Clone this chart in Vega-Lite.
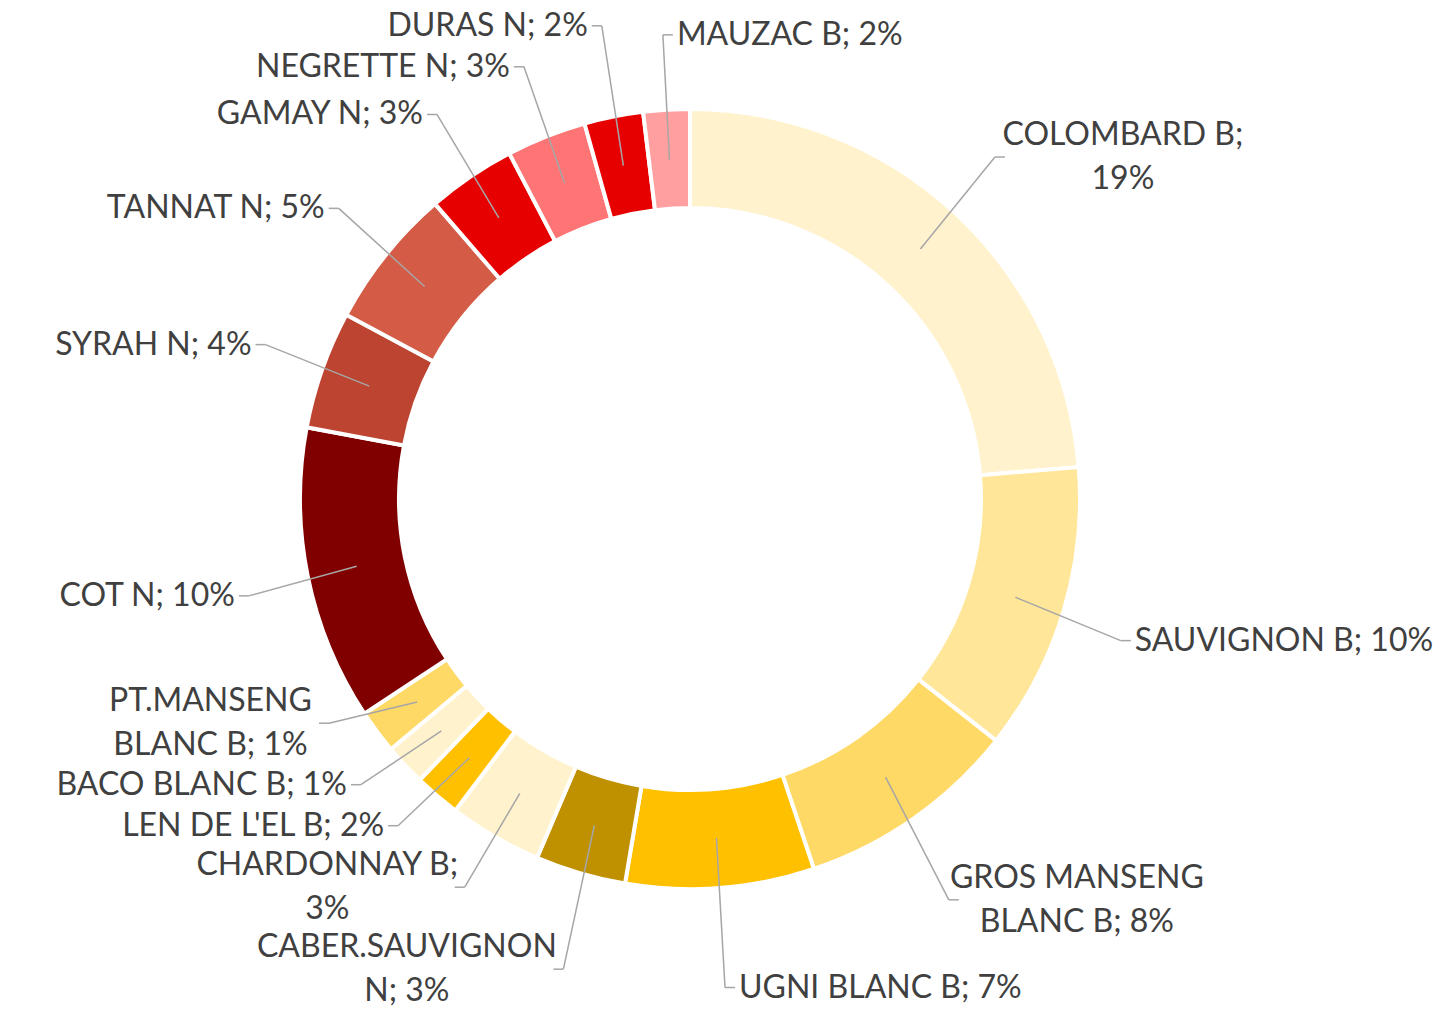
{
  "$schema": "https://vega.github.io/schema/vega-lite/v6.json",
  "width": 1380,
  "height": 998,
  "autosize": {"type": "none"},
  "padding": {"left": 0, "top": 0, "right": 75, "bottom": 19},
  "background": "white",
  "config": {"view": {"stroke": null}, "font": "Lato"},
  "data": {
    "values": [
      {"idx": 1, "name": "COLOMBARD B", "value": 23.7, "label": "COLOMBARD B;\n19%"},
      {"idx": 2, "name": "SAUVIGNON B", "value": 11.94, "label": "SAUVIGNON B; 10%"},
      {"idx": 3, "name": "GROS MANSENG BLANC B", "value": 9.22, "label": "GROS MANSENG\nBLANC B; 8%"},
      {"idx": 4, "name": "UGNI BLANC B", "value": 7.81, "label": "UGNI BLANC B; 7%"},
      {"idx": 5, "name": "CABER.SAUVIGNON N", "value": 3.75, "label": "CABER.SAUVIGNON\nN; 3%"},
      {"idx": 6, "name": "CHARDONNAY B", "value": 3.86, "label": "CHARDONNAY B;\n3%"},
      {"idx": 7, "name": "LEN DE L'EL B", "value": 1.92, "label": "LEN DE L'EL B; 2%"},
      {"idx": 8, "name": "BACO BLANC B", "value": 1.72, "label": "BACO BLANC B; 1%"},
      {"idx": 9, "name": "PT.MANSENG BLANC B", "value": 1.81, "label": "PT.MANSENG\nBLANC B; 1%"},
      {"idx": 10, "name": "COT N", "value": 12.22, "label": "COT N; 10%"},
      {"idx": 11, "name": "SYRAH N", "value": 4.89, "label": "SYRAH N; 4%"},
      {"idx": 12, "name": "TANNAT N", "value": 5.83, "label": "TANNAT N; 5%"},
      {"idx": 13, "name": "GAMAY N", "value": 3.67, "label": "GAMAY N; 3%"},
      {"idx": 14, "name": "NEGRETTE N", "value": 3.31, "label": "NEGRETTE N; 3%"},
      {"idx": 15, "name": "DURAS N", "value": 2.44, "label": "DURAS N; 2%"},
      {"idx": 16, "name": "MAUZAC B", "value": 1.92, "label": "MAUZAC B; 2%"}
    ]
  },
  "transform": [
    {"joinaggregate": [{"op": "sum", "field": "value", "as": "total"}]},
    {"window": [{"op": "sum", "field": "value", "as": "cum"}], "sort": [{"field": "idx", "order": "ascending"}], "frame": [null, 0]},
    {"calculate": "2*PI*(datum.cum - datum.value/2)/datum.total", "as": "ang"},
    {"calculate": "sin(datum.ang)", "as": "sx"},
    {"calculate": "cos(datum.ang)", "as": "cy"},
    {"calculate": "datum.sx*340", "as": "x0"},
    {"calculate": "-datum.cy*340", "as": "y0"},
    {"calculate": "datum.sx*450", "as": "ax"},
    {"calculate": "-datum.cy*(datum.cy < 0 ? 490 : 465)", "as": "ay"},
    {"calculate": "datum.sx < -0.1 ? -1 : 1", "as": "dir"},
    {"calculate": "split(datum.label, '\\n')", "as": "lines"},
    {"calculate": "length(datum.lines)", "as": "nl"},
    {"calculate": "datum.nl*41", "as": "h"},
    {"window": [{"op": "lag", "field": "h", "as": "hprev"}], "groupby": ["dir"], "sort": [{"field": "ay", "order": "descending"}]},
    {"calculate": "isValid(datum.hprev) ? (datum.hprev + datum.h)/2 : 0", "as": "gap"},
    {"window": [{"op": "sum", "field": "gap", "as": "S"}], "groupby": ["dir"], "sort": [{"field": "ay", "order": "descending"}], "frame": [null, 0]},
    {"calculate": "datum.ay + datum.S", "as": "k"},
    {"window": [{"op": "min", "field": "k", "as": "kmin"}], "groupby": ["dir"], "sort": [{"field": "ay", "order": "descending"}], "frame": [null, 0]},
    {"calculate": "datum.kmin - datum.S", "as": "ly"},
    {"calculate": "datum.ly - (datum.nl - 1)*22", "as": "ty"},
    {"calculate": "datum.ax + datum.dir*10", "as": "stubx"},
    {"calculate": "datum.nl > 1 ? max(length(datum.lines[0]), length(datum.lines[1])) : length(datum.lines[0])", "as": "maxlen"},
    {"calculate": "datum.ax + datum.dir*(14 + (datum.nl > 1 ? datum.maxlen*9.5 : 0))", "as": "tx"}
  ],
  "layer": [
    {
      "mark": {"type": "arc", "radius": 390, "radius2": 291, "stroke": "white", "strokeWidth": 4},
      "encoding": {
        "theta": {"field": "value", "type": "quantitative", "stack": true},
        "order": {"field": "idx", "type": "quantitative"},
        "color": {
          "field": "name",
          "type": "nominal",
          "legend": null,
          "scale": {
            "domain": ["COLOMBARD B", "SAUVIGNON B", "GROS MANSENG BLANC B", "UGNI BLANC B", "CABER.SAUVIGNON N", "CHARDONNAY B", "LEN DE L'EL B", "BACO BLANC B", "PT.MANSENG BLANC B", "COT N", "SYRAH N", "TANNAT N", "GAMAY N", "NEGRETTE N", "DURAS N", "MAUZAC B"],
            "range": ["#FFF2CC", "#FFE699", "#FFD966", "#FFC000", "#BF9000", "#FFF2CC", "#FFC000", "#FFF2CC", "#FFD966", "#800000", "#BC4430", "#D45C46", "#E60000", "#FF7575", "#E60000", "#FF9F9F"]
          }
        }
      }
    },
    {
      "mark": {"type": "rule", "color": "#A6A6A6", "strokeWidth": 1.5},
      "encoding": {
        "x": {"field": "x0", "type": "quantitative", "axis": null, "scale": {"domain": [-690, 690], "nice": false, "zero": false}},
        "y": {"field": "y0", "type": "quantitative", "axis": null, "scale": {"domain": [-499, 499], "nice": false, "zero": false, "reverse": true}},
        "x2": {"field": "ax"},
        "y2": {"field": "ly"}
      }
    },
    {
      "mark": {"type": "rule", "color": "#A6A6A6", "strokeWidth": 1.5},
      "encoding": {
        "x": {"field": "ax", "type": "quantitative", "axis": null, "scale": {"domain": [-690, 690], "nice": false, "zero": false}},
        "y": {"field": "ly", "type": "quantitative", "axis": null, "scale": {"domain": [-499, 499], "nice": false, "zero": false, "reverse": true}},
        "x2": {"field": "stubx"}
      }
    },
    {
      "transform": [{"filter": "datum.nl > 1"}],
      "mark": {"type": "text", "align": "center", "baseline": "middle", "fontSize": 32, "color": "#404040", "lineBreak": "\n", "lineHeight": 44},
      "encoding": {
        "x": {"field": "tx", "type": "quantitative", "axis": null, "scale": {"domain": [-690, 690], "nice": false, "zero": false}},
        "y": {"field": "ty", "type": "quantitative", "axis": null, "scale": {"domain": [-499, 499], "nice": false, "zero": false, "reverse": true}},
        "text": {"field": "label", "type": "nominal"}
      }
    },
    {
      "transform": [{"filter": "datum.nl == 1 && datum.dir < 0"}],
      "mark": {"type": "text", "align": "right", "baseline": "middle", "fontSize": 32, "color": "#404040"},
      "encoding": {
        "x": {"field": "tx", "type": "quantitative", "axis": null, "scale": {"domain": [-690, 690], "nice": false, "zero": false}},
        "y": {"field": "ly", "type": "quantitative", "axis": null, "scale": {"domain": [-499, 499], "nice": false, "zero": false, "reverse": true}},
        "text": {"field": "label", "type": "nominal"}
      }
    },
    {
      "transform": [{"filter": "datum.nl == 1 && datum.dir > 0"}],
      "mark": {"type": "text", "align": "left", "baseline": "middle", "fontSize": 32, "color": "#404040"},
      "encoding": {
        "x": {"field": "tx", "type": "quantitative", "axis": null, "scale": {"domain": [-690, 690], "nice": false, "zero": false}},
        "y": {"field": "ly", "type": "quantitative", "axis": null, "scale": {"domain": [-499, 499], "nice": false, "zero": false, "reverse": true}},
        "text": {"field": "label", "type": "nominal"}
      }
    }
  ]
}
